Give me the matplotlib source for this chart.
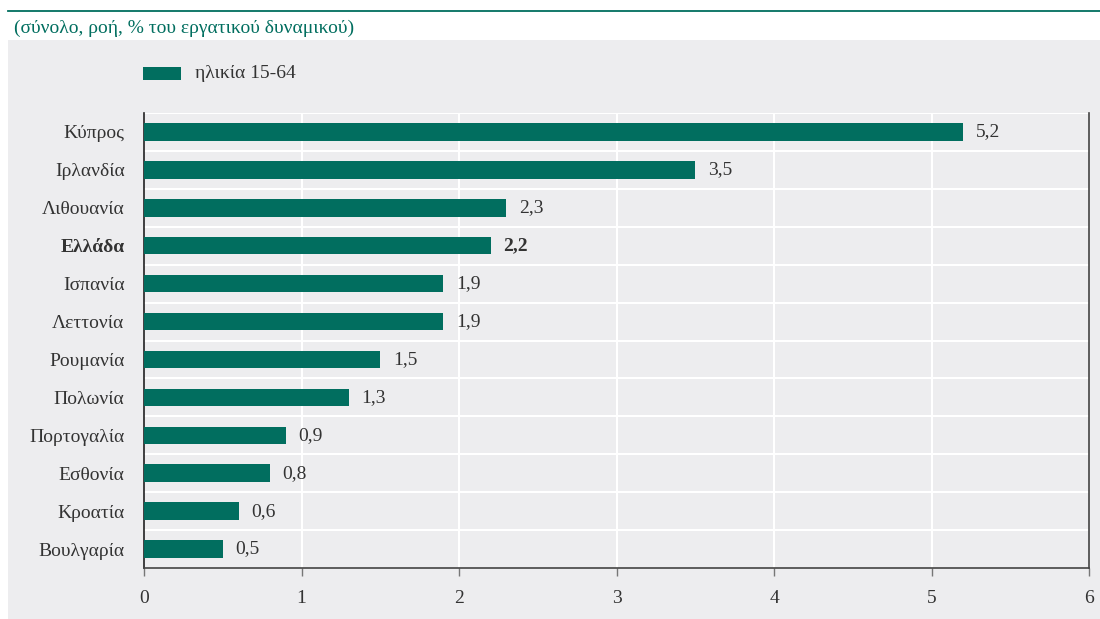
import matplotlib.pyplot as plt
from matplotlib.patches import Rectangle

# Ρυθμός ροής (% του εργατικού δυναμικού), ηλικία 15-64
countries = ["Κύπρος", "Ιρλανδία", "Λιθουανία", "Ελλάδα", "Ισπανία", "Λεττονία",
             "Ρουμανία", "Πολωνία", "Πορτογαλία", "Εσθονία", "Κροατία", "Βουλγαρία"]
values = [5.2, 3.5, 2.3, 2.2, 1.9, 1.9, 1.5, 1.3, 0.9, 0.8, 0.6, 0.5]
xticks = [0, 1, 2, 3, 4, 5, 6]
highlight = "Ελλάδα"

teal = "#016e5f"
bg = "#ededef"
txt = "#333333"
fs = 14

plt.rcParams['font.family'] = ['Liberation Serif', 'DejaVu Serif']

fig = plt.figure(figsize=(11, 6.19), dpi=100, facecolor='white')
W, H = 1100, 619

# γκρι φόντο και γραμμή κεφαλίδας
fig.patches.append(Rectangle((8 / W, 0), 1 - 8 / W, 1 - 40 / H, transform=fig.transFigure,
                             facecolor=bg, edgecolor='none', zorder=-10))
fig.add_artist(plt.Line2D([8 / W, 1], [1 - 11 / H, 1 - 11 / H], color=teal, lw=1.3,
                          transform=fig.transFigure))
fig.text(14 / W, 1 - 28 / H, "(σύνολο, ροή, % του εργατικού δυναμικού)",
         color=teal, fontsize=fs, va='center', ha='left')

ax = fig.add_axes([144 / W, 1 - 568 / H, (1089 - 144) / W, (568 - 113) / H])
ax.set_facecolor(bg)
ax.set_zorder(5)

y = list(range(len(countries)))
ax.barh(y, values, height=0.46, color=teal, zorder=3)
ax.set_ylim(len(countries) - 0.5, -0.5)
ax.set_xlim(0, 6)

for yi, v, c in zip(y, values, countries):
    ax.text(v + 0.08, yi, f"{v:.1f}".replace(".", ","), va='center', ha='left',
            fontsize=fs, color=txt, fontweight='bold' if c == highlight else 'normal',
            zorder=4)

# λευκές γραμμές πλέγματος
for xt in xticks[1:-1]:
    ax.axvline(xt, color='white', lw=1.5, zorder=1)
for k in range(len(countries)):
    ax.axhline(k - 0.5, color='white', lw=1.5, zorder=1)

ax.set_yticks(y)
ax.set_yticklabels(countries, fontsize=fs, color=txt)
for lbl in ax.get_yticklabels():
    if lbl.get_text() == highlight:
        lbl.set_fontweight('bold')
ax.tick_params(axis='y', length=0, pad=14)

ax.set_xticks(xticks)
ax.set_xticklabels([str(t) for t in xticks], fontsize=fs, color=txt)
ax.tick_params(axis='x', length=6, width=1, color='#777777', pad=10, direction='out')

ax.spines['top'].set_visible(False)
ax.spines['left'].set_color('#222222')
ax.spines['right'].set_color('#444444')
ax.spines['bottom'].set_color('#444444')
for s in ['left', 'right', 'bottom']:
    ax.spines[s].set_linewidth(1.2)

# υπόμνημα
fig.patches.append(Rectangle((143 / W, 1 - 80 / H), 38 / W, 13 / H, transform=fig.transFigure,
                             facecolor=teal, edgecolor='none', zorder=2))
fig.text(195 / W, 1 - 73 / H, "ηλικία 15-64", color=txt, fontsize=fs, va='center', ha='left')

fig.savefig("out.png", dpi=100, facecolor='white')
